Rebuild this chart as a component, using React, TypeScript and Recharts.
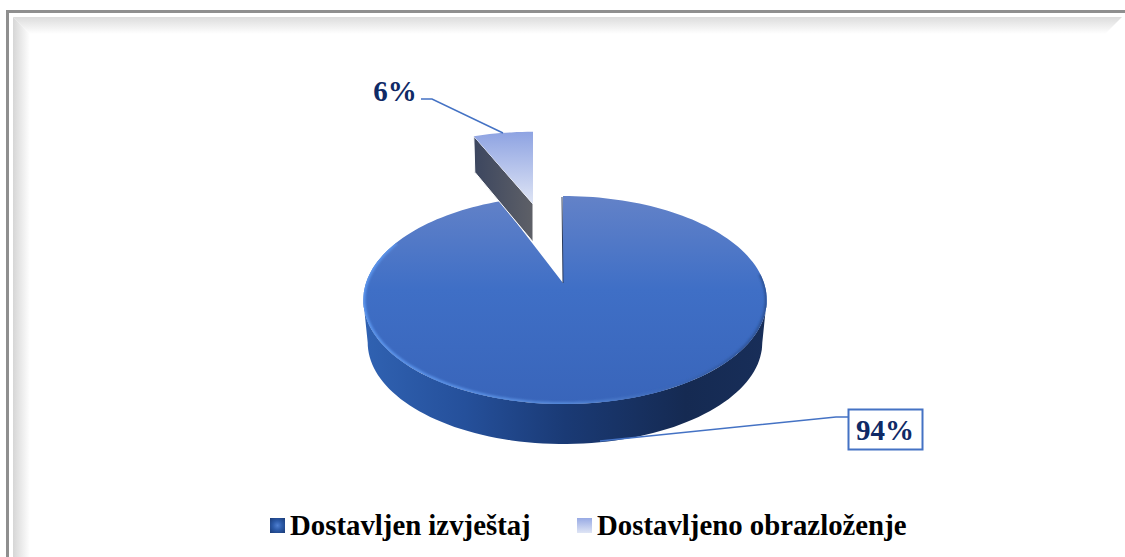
import React from 'react';
import { Legend, Pie, PieChart } from 'recharts';

const categories = ['Dostavljen izvještaj', 'Dostavljeno obrazloženje'];
const shares = [94, 6];

const data = categories.map((name, i) => ({ name, value: shares[i] }));

const FONT = '"Liberation Serif", serif';
const PERSP = 0.1634;

// circle -> tilted plate, theta runs clockwise from 12 o'clock
const project = (theta: number, ax: number, ay: number, sx = 1, sy = 1) => {
  const r = (theta * Math.PI) / 180;
  const X = Math.sin(r);
  const Y = Math.cos(r);
  const d = 1 + PERSP * Y;
  const f = X > 0 ? 201 : 197;
  return [ax + (f * X * sx) / d, ay - (101.2 * Y * sy) / d];
};

const arcPoints = (from: number, to: number, ax: number, ay: number, sx = 1, sy = 1) => {
  const pts: number[][] = [];
  const n = Math.max(2, Math.ceil(Math.abs(to - from) / 2));
  for (let i = 0; i <= n; i++) pts.push(project(from + ((to - from) * i) / n, ax, ay, sx, sy));
  return pts;
};

const toPath = (pts: number[][], close = true) =>
  pts.map((p, i) => `${i ? 'L' : 'M'}${p[0].toFixed(1)} ${p[1].toFixed(1)}`).join(' ') + (close ? ' Z' : '');

const Plate = (props: any) => {
  const { cx, cy, startAngle, endAngle, name } = props;
  const from = 90 - startAngle;
  const to = 90 - endAngle;

  if (name === categories[1]) {
    // exploded slice, pushed back and up
    const ax = cx - 30;
    const ay = cy - 79;
    const edge = arcPoints(from, to, ax, ay, 0.94, 0.83);
    const outerLeft = edge[0];
    const face = [[ax, ay], outerLeft, [outerLeft[0] + 1, outerLeft[1] + 36], [ax, ay + 38]];
    return (
      <g>
        <defs>
          <linearGradient id="sliceTop" x1="0" y1="0" x2="0" y2="1">
            <stop offset="0%" stopColor="#8ea3e2" />
            <stop offset="100%" stopColor="#dfe5f5" />
          </linearGradient>
          <linearGradient id="sliceFace" x1="0" y1="0" x2="1" y2="0">
            <stop offset="0%" stopColor="#3c465f" />
            <stop offset="100%" stopColor="#5e6067" />
          </linearGradient>
        </defs>
        <path d={toPath(face)} fill="url(#sliceFace)" stroke="#fff" strokeWidth={1} />
        <path d={toPath([[ax, ay], ...edge])} fill="url(#sliceTop)" />
      </g>
    );
  }

  const ax = cx;
  const ay = cy;
  // silhouette tangents sit just past 3 and 9 o'clock
  const rim = arcPoints(99.4, 260.6, ax, ay);
  const floor = arcPoints(260.6, 99.4, ax, ay + 43, 0.978, 0.975);
  const top = [[ax, ay], ...arcPoints(from, to, ax, ay)];
  return (
    <g>
      <defs>
        <linearGradient id="wall" x1="0" y1="0" x2="1" y2="0">
          <stop offset="0%" stopColor="#3062b2" />
          <stop offset="25%" stopColor="#25509b" />
          <stop offset="50%" stopColor="#1a3a75" />
          <stop offset="80%" stopColor="#152a52" />
          <stop offset="100%" stopColor="#182e59" />
        </linearGradient>
        <linearGradient id="plateTop" x1="0" y1="0" x2="0" y2="1">
          <stop offset="0%" stopColor="#6382c8" />
          <stop offset="45%" stopColor="#3f6fc6" />
          <stop offset="100%" stopColor="#3965ba" />
        </linearGradient>
        <linearGradient id="rimLight" x1="0" y1="0" x2="1" y2="0">
          <stop offset="0%" stopColor="#5c96ee" />
          <stop offset="50%" stopColor="#5588d8" />
          <stop offset="75%" stopColor="#3c68b8" />
          <stop offset="100%" stopColor="#2d5296" />
        </linearGradient>
        <filter id="soft" x="-5%" y="-5%" width="110%" height="110%">
          <feGaussianBlur stdDeviation="1.1" />
        </filter>
        <clipPath id="plateClip">
          <path d={toPath(top)} />
        </clipPath>
      </defs>
      <path d={toPath([...rim, ...floor])} fill="url(#wall)" />
      <path d={toPath(top)} fill="url(#plateTop)" />
      <g clipPath="url(#plateClip)">
        <path
          d={toPath(arcPoints(85, 295, ax, ay), false)}
          fill="none"
          stroke="url(#rimLight)"
          strokeWidth={4}
          filter="url(#soft)"
        />
      </g>
      <line x1={ax} y1={ay} x2={ax - 1} y2={ay - 86} stroke="#2a3a5c" strokeWidth={1} />
    </g>
  );
};

const SliceLabel = (props: any) => {
  const text = `${Math.round(props.percent * 100)}%`;
  if (props.name === categories[1]) {
    return (
      <g>
        <polyline points="421,99 432,99 503,133" fill="none" stroke="#4472c4" strokeWidth={1.5} />
        <text x={395} y={101} textAnchor="middle" fontFamily={FONT} fontWeight={700} fontSize={29} fill="#0f2a66">
          {text}
        </text>
      </g>
    );
  }
  return (
    <g>
      <polyline points="848,417 836,417 600,441" fill="none" stroke="#4472c4" strokeWidth={1.5} />
      <rect x={848.5} y={409.5} width={74} height={40} fill="#fff" stroke="#4472c4" strokeWidth={2} />
      <text x={885} y={440} textAnchor="middle" fontFamily={FONT} fontWeight={700} fontSize={29} fill="#0f2a66">
        {text}
      </text>
    </g>
  );
};

const iconBackgrounds = [
  'radial-gradient(circle at 50% 50%, #4f7fd0 0%, #2c5aa8 45%, #1a3a75 100%)',
  'linear-gradient(to bottom, #98aae4, #dfe5f5)',
];
const legendX = [270, 577];

const LegendRow = (props: any) => (
  <div style={{ position: 'relative', height: 40, fontFamily: FONT }}>
    {(props.payload || []).map((entry: any, i: number) => (
      <React.Fragment key={entry.value}>
        <span
          style={{
            position: 'absolute',
            left: legendX[i],
            top: 10,
            width: 15,
            height: 15,
            background: iconBackgrounds[i],
          }}
        />
        <span
          style={{
            position: 'absolute',
            left: legendX[i] + 20,
            top: 0,
            fontSize: 28.8,
            fontWeight: 700,
            lineHeight: '34px',
            color: '#000',
            whiteSpace: 'nowrap',
          }}
        >
          {entry.value}
        </span>
      </React.Fragment>
    ))}
  </div>
);

const box = (style: React.CSSProperties) => <div style={{ position: 'absolute', ...style }} />;

export default function App() {
  return (
    <div style={{ position: 'absolute', left: 0, top: 0, width: 1125, height: 557, overflow: 'hidden', background: '#fff' }}>
      {box({ left: 6, top: 10, width: 1119, height: 3, background: '#8f8f8f' })}
      {box({ left: 6, top: 10, width: 3, height: 547, background: '#8f8f8f' })}
      {box({
        left: 13,
        top: 17,
        width: 1109,
        height: 17,
        background: 'linear-gradient(to bottom, #dcdcdc, #ffffff)',
        clipPath: 'polygon(0 0, 100% 0, calc(100% - 17px) 100%, 17px 100%)',
      })}
      {box({
        left: 13,
        top: 17,
        width: 17,
        height: 540,
        background: 'linear-gradient(to right, #d6d6d6, #ffffff)',
        clipPath: 'polygon(0 0, 100% 17px, 100% 100%, 0 100%)',
      })}
      <PieChart width={1125} height={557} margin={{ top: 0, right: 0, bottom: 0, left: 0 }} style={{ position: 'absolute', left: 0, top: 0 }}>
        <Pie
          data={data}
          dataKey="value"
          nameKey="name"
          cx={563}
          cy={283}
          outerRadius={100}
          startAngle={90}
          endAngle={-270}
          stroke="none"
          shape={Plate}
          label={SliceLabel}
          labelLine={false}
          isAnimationActive={false}
        />
        <Legend content={LegendRow} wrapperStyle={{ left: 0, top: 508, bottom: 'auto', width: 1125 }} />
      </PieChart>
    </div>
  );
}
